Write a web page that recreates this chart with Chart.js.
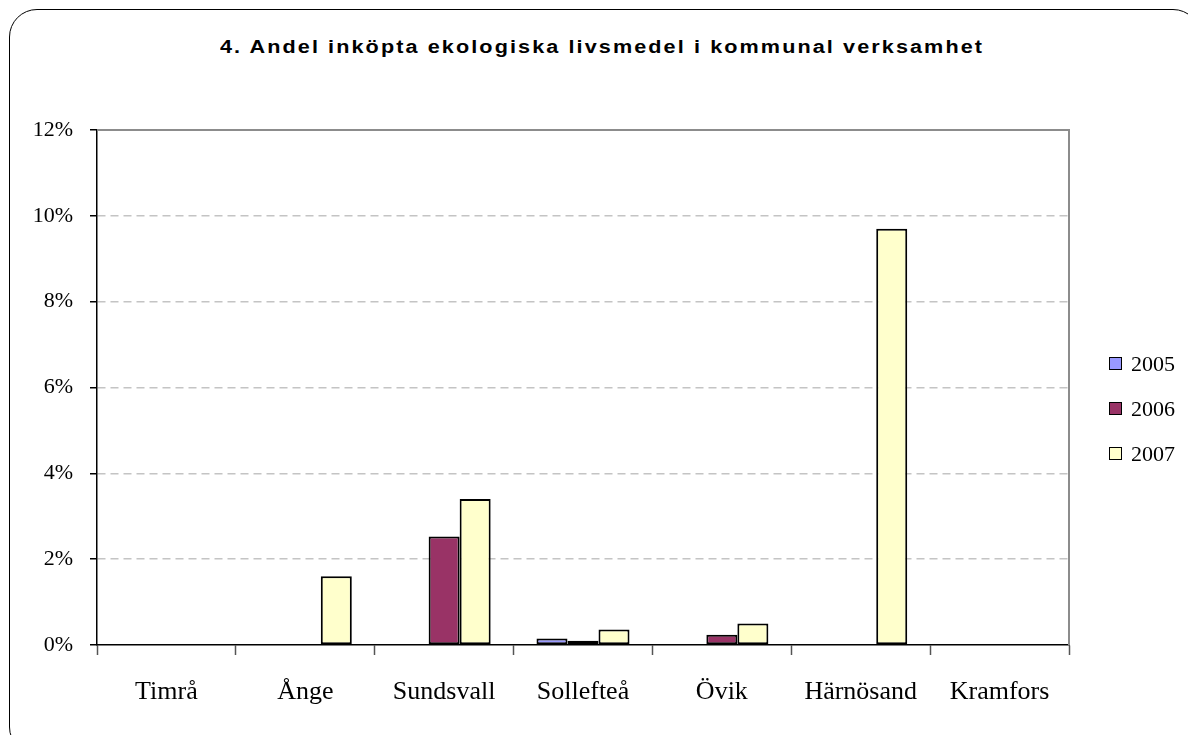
<!DOCTYPE html>
<html>
<head>
<meta charset="utf-8">
<script src="https://cdn.jsdelivr.net/npm/chart.js@4.4.1/dist/chart.umd.min.js"></script>
<style>
    html, body { margin: 0; padding: 0; width: 1188px; height: 735px; overflow: hidden; background: #fff; }
    #frame { position: absolute; left: 9px; top: 9px; width: 1192px; height: 746px; border: 1.5px solid #000; border-radius: 28px; box-sizing: border-box; }
    #chartTitle { position: absolute; left: 220px; top: 38px; font: bold 18px/18px "Liberation Sans", Arial, sans-serif; letter-spacing: 1.75px; white-space: nowrap; color: #000; transform: scaleX(1.2); transform-origin: 0 0; }
    #chartWrap { position: absolute; left: 0; top: 0; width: 1188px; height: 735px; }
    .custom-legends { position: absolute; left: 1109px; top: 341px; margin: 0; padding: 0; list-style: none; }
    .custom-legends li { height: 45px; display: flex; align-items: center; font: 22px "Liberation Serif", "Times New Roman", serif; color: #000; }
    .custom-legends .dot { width: 11px; height: 11px; border: 1.5px solid #000; margin-right: 9px; }
</style>
</head>
<body>
<div id="frame"></div>
<div id="chartTitle">4. Andel inköpta ekologiska livsmedel i kommunal verksamhet</div>
<div id="chartWrap"><canvas id="chartEko" width="1188" height="735"></canvas></div>
<ul id="legendEko" class="custom-legends"></ul>
<script>
// kommuner och år
const categories = ['Timrå', 'Ånge', 'Sundsvall', 'Sollefteå', 'Övik', 'Härnösand', 'Kramfors'];
const seriesNames = ['2005', '2006', '2007'];
// andel i procent, null = inget värde
const values2005 = [null, null, null, 0.15, null, null, null];
const values2006 = [null, null, 2.53, 0.1, 0.24, null, null];
const values2007 = [null, 1.6, 3.4, 0.36, 0.5, 9.7, null];
const yTicks = [0, 2, 4, 6, 8, 10, 12];
const seriesColors = ['#9999FF', '#993366', '#FFFFCC'];

const serifFont = '"Liberation Serif", "Times New Roman", serif';
Chart.defaults.font.family = serifFont;
Chart.defaults.color = '#000000';

let allValues = [values2005, values2006, values2007];
let datasets = seriesNames.map(function (name, i) {
    return {
        label: name,
        data: allValues[i],
        backgroundColor: seriesColors[i],
        borderColor: '#000000',
        borderWidth: 2,
        borderSkipped: false,
        barPercentage: 1,
        categoryPercentage: 0.67
    };
});

// grå ram upptill och till höger om ritytan
const plotFrame = {
    id: 'plotFrame',
    beforeDatasetsDraw: function (chart) {
        let a = chart.chartArea;
        let ctx = chart.ctx;
        ctx.save();
        ctx.strokeStyle = '#8c8c8c';
        ctx.lineWidth = 2;
        ctx.beginPath();
        ctx.moveTo(a.left, a.top);
        ctx.lineTo(a.right, a.top);
        ctx.lineTo(a.right, a.bottom);
        ctx.stroke();
        ctx.restore();
    }
};

let chartEkoCanvas = document.getElementById('chartEko');
let chartEko = new Chart(chartEkoCanvas, {
    type: 'bar',
    data: { labels: categories, datasets: datasets },
    options: {
        responsive: false,
        animation: false,
        layout: { padding: { left: 0, top: 130, right: 119, bottom: 0 } },
        plugins: {
            legend: { display: false },
            title: { display: false },
            tooltip: { enabled: false }
        },
        scales: {
            x: {
                afterFit: function (scale) { scale.height = 90; },
                grid: { offset: true, drawOnChartArea: false, tickLength: 10, tickColor: '#555555', tickWidth: 1.5 },
                border: { color: '#000000', width: 1.5 },
                ticks: { color: '#000000', padding: 22, maxRotation: 0, font: { family: serifFont, size: 26 } }
            },
            y: {
                min: 0,
                max: 12,
                afterFit: function (scale) { scale.width = 97; },
                afterBuildTicks: function (scale) {
                    scale.ticks = yTicks.map(function (v) { return { value: v }; });
                },
                grid: {
                    color: function (c) {
                        return (c.tick && (c.tick.value === 0 || c.tick.value === 12)) ? 'rgba(0,0,0,0)' : '#c4c4c4';
                    },
                    lineWidth: 1.5,
                    tickLength: 7,
                    tickColor: '#000000',
                    tickWidth: 1.5
                },
                border: { color: '#000000', width: 1.5, dash: [8, 5] },
                ticks: {
                    color: '#000000',
                    padding: 17,
                    font: { family: serifFont, size: 22 },
                    callback: function (v) { return v + '%'; }
                }
            }
        }
    },
    plugins: [plotFrame]
});

// egen legend till höger
let elem = [];
for (let i = 0; i < chartEko.data.datasets.length; i++) {
    elem.push('<li><span class="dot" style="background-color:' + chartEko.data.datasets[i].backgroundColor + '"></span>' + chartEko.data.datasets[i].label + '</li>');
}
document.getElementById('legendEko').innerHTML = elem.join('');
</script>
</body>
</html>
